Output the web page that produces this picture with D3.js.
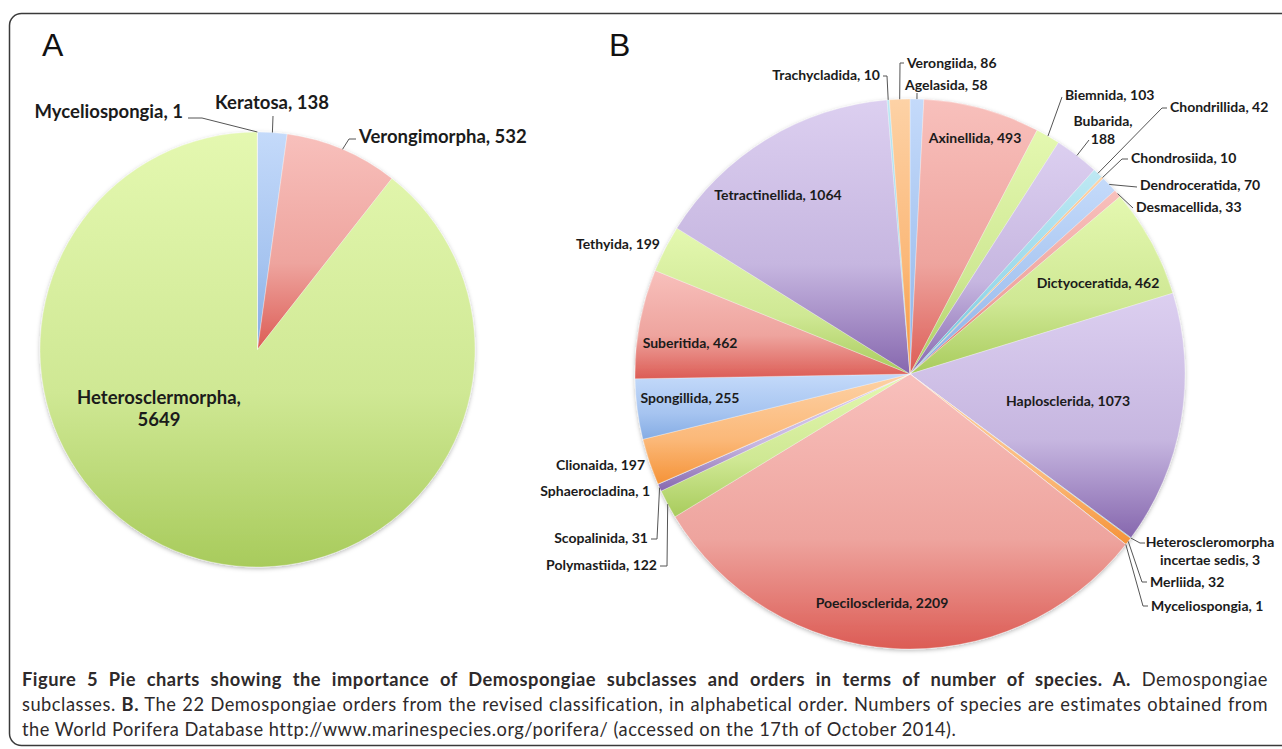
<!DOCTYPE html>
<html>
<head>
<meta charset="utf-8">
<script src="https://cdn.jsdelivr.net/npm/d3@7"></script>
<style>
  body { margin: 0; background: #fff; }
  svg { display: block; }
</style>
</head>
<body>
<svg id="chart"></svg>
<script>
// subclasses (panel A), clockwise from 12 o'clock
let subclassNames = ['Keratosa', 'Verongimorpha', 'Heterosclermorpha', 'Myceliospongia']
let subclassCounts = [138, 532, 5649, 1]

// orders (panel B), clockwise from 12 o'clock
let orderNames = ['Agelasida', 'Axinellida', 'Biemnida', 'Bubarida', 'Chondrillida', 'Chondrosiida',
  'Dendroceratida', 'Desmacellida', 'Dictyoceratida', 'Haplosclerida', 'Heteroscleromorpha incertae sedis',
  'Merliida', 'Myceliospongia', 'Poecilosclerida', 'Polymastiida', 'Scopalinida', 'Sphaerocladina',
  'Clionaida', 'Spongillida', 'Suberitida', 'Tethyida', 'Tetractinellida', 'Trachycladida', 'Verongiida']
let orderCounts = [58, 493, 103, 188, 42, 10, 70, 33, 462, 1073, 3, 32, 1, 2209, 122, 31, 1, 197, 255, 462, 199, 1064, 10, 86]

let width = 1282
let height = 749

// excel-ish palette: light top, mid, darker bottom
let palette = [
  ['#c4dafa', '#a6c4f0', '#84ace4'],
  ['#f8c0bc', '#eea49e', '#dc5c55'],
  ['#e4f8b0', '#cfe894', '#a8cb5c'],
  ['#dccff0', '#c6b6e0', '#8667ae'],
  ['#bee8f3', '#98d8ea', '#5fbcd7'],
  ['#fdd2a6', '#fbb878', '#f59338']
]

// label layout: [x, y(center of first line), anchor, lines, leader points]
let layoutA = [
  [272, 103, 'middle', ['Keratosa, 138'], [[273, 116]]],
  [359, 137, 'start', ['Verongimorpha, 532'], [[356, 139], [349, 139]]],
  [159, 398, 'middle', ['Heterosclermorpha,', '5649'], null],
  [183, 112, 'end', ['Myceliospongia, 1'], [[188, 118], [202, 118]]]
]

let layoutB = [
  [905, 85, 'start', ['Agelasida, 58'], [[917, 93]]],
  [975, 138, 'middle', ['Axinellida, 493'], null],
  [1065, 95, 'start', ['Biemnida, 103'], [[1062, 97]]],
  [1103, 121, 'middle', ['Bubarida,', '188'], [[1089, 140]]],
  [1170, 107, 'start', ['Chondrillida, 42'], [[1167, 108], [1162, 108]]],
  [1131, 158, 'start', ['Chondrosiida, 10'], [[1128, 159], [1122, 159]]],
  [1140, 185, 'start', ['Dendroceratida, 70'], [[1137, 187]]],
  [1136, 207, 'start', ['Desmacellida, 33'], [[1133, 208]]],
  [1098, 283, 'middle', ['Dictyoceratida, 462'], null],
  [1068, 401, 'middle', ['Haplosclerida, 1073'], null],
  [1210, 542, 'middle', ['Heteroscleromorpha', 'incertae sedis, 3'], [[1145, 543], [1140, 543]]],
  [1150, 582, 'start', ['Merliida, 32'], [[1147, 582], [1142, 582]]],
  [1151, 606, 'start', ['Myceliospongia, 1'], [[1148, 606], [1143, 606]]],
  [882, 603, 'middle', ['Poecilosclerida, 2209'], null],
  [657, 565, 'end', ['Polymastiida, 122'], [[660, 566], [667, 566]]],
  [648, 538, 'end', ['Scopalinida, 31'], [[651, 539], [657, 539]]],
  [650, 491, 'end', ['Sphaerocladina, 1'], null],
  [645, 465, 'end', ['Clionaida, 197'], null],
  [690, 398, 'middle', ['Spongillida, 255'], null],
  [690, 343, 'middle', ['Suberitida, 462'], null],
  [660, 244, 'end', ['Tethyida, 199'], null],
  [778, 195, 'middle', ['Tetractinellida, 1064'], null],
  [880, 75, 'end', ['Trachycladida, 10'], [[883, 76], [887, 76]]],
  [907, 63, 'start', ['Verongiida, 86'], [[904, 63], [900, 63]]]
]

let svg = d3.select('#chart')
  .attr('width', width)
  .attr('height', height)

let defs = svg.append('defs')

palette.forEach((c, i) => {
  let g = defs.append('linearGradient')
    .attr('id', 'grad' + i)
    .attr('x1', 0).attr('y1', 0)
    .attr('x2', 0).attr('y2', 1)
  g.append('stop').attr('offset', '0%').attr('stop-color', c[0])
  g.append('stop').attr('offset', '60%').attr('stop-color', c[1])
  g.append('stop').attr('offset', '100%').attr('stop-color', c[2])
})

defs.append('filter')
  .attr('id', 'shadow')
  .attr('x', '-10%').attr('y', '-10%')
  .attr('width', '120%').attr('height', '120%')
  .append('feDropShadow')
  .attr('dx', 0).attr('dy', 1.5)
  .attr('stdDeviation', 2)
  .attr('flood-color', '#000')
  .attr('flood-opacity', 0.28)

// frame
svg.append('rect')
  .attr('x', 9.5).attr('y', 13.5)
  .attr('width', 1300).attr('height', 732)
  .attr('rx', 12)
  .attr('fill', 'none')
  .attr('stroke', '#3a3a3a')
  .attr('stroke-width', 1.5)

// panel letters
svg.append('text').attr('x', 42).attr('y', 56).text('A')
  .attr('font-family', 'Liberation Sans, Arial, sans-serif').attr('font-size', 32).attr('fill', '#111')
svg.append('text').attr('x', 609).attr('y', 56).text('B')
  .attr('font-family', 'Liberation Sans, Arial, sans-serif').attr('font-size', 32).attr('fill', '#111')

let drawPie = (names, counts, cx, cy, r, layout, fontSize, lineGap) => {
  let data = names.map((n, i) => ({ name: n, value: counts[i], idx: i }))
  let pie = d3.pie().sort(null).value(d => d.value)
  let arcs = pie(data)
  let arc = d3.arc().innerRadius(0).outerRadius(r)

  let g = svg.append('g').attr('transform', 'translate(' + cx + ',' + cy + ')')

  g.append('g')
    .attr('filter', 'url(#shadow)')
    .selectAll('path')
    .data(arcs)
    .enter()
    .append('path')
    .attr('d', arc)
    .attr('fill', d => 'url(#grad' + (d.data.idx % palette.length) + ')')
    .attr('stroke', '#fff')
    .attr('stroke-width', 0.6)
    .attr('stroke-opacity', 0.5)

  // leader lines: label side -> slice edge
  arcs.forEach((d, i) => {
    let lay = layout[i]
    if (!lay[4]) return
    let mid = (d.startAngle + d.endAngle) / 2
    let edge = [cx + r * Math.sin(mid), cy - r * Math.cos(mid)]
    let pts = lay[4].concat([edge])
    svg.append('path')
      .attr('d', d3.line()(pts))
      .attr('fill', 'none')
      .attr('stroke', '#555')
      .attr('stroke-width', 1)
  })

  arcs.forEach((d, i) => {
    let lay = layout[i]
    let t = svg.append('text')
      .attr('text-anchor', lay[2])
      .attr('font-family', 'Lato, Calibri, sans-serif')
      .attr('font-weight', 700)
      .attr('font-size', fontSize)
      .attr('fill', '#1b1b1b')
    lay[3].forEach((line, k) => {
      t.append('tspan')
        .attr('x', lay[0])
        .attr('y', lay[1] + k * lineGap)
        .attr('dy', '0.35em')
        .text(line)
    })
  })
}

drawPie(subclassNames, subclassCounts, 257.5, 349.5, 217.5, layoutA, 18.5, 22)
drawPie(orderNames, orderCounts, 910, 374, 275, layoutB, 14, 18)

// caption
let captionLines = [
  [['Figure 5 Pie charts showing the importance of Demospongiae subclasses and orders in terms of number of species. A.', true], [' Demospongiae', false]],
  [['subclasses. ', false], ['B.', true], [' The 22 Demospongiae orders from the revised classification, in alphabetical order. Numbers of species are estimates obtained from', false]],
  [['the World Porifera Database http://www.marinespecies.org/porifera/ (accessed on the 17th of October 2014).', false]]
]
let capX = 22
let capRight = 1268
captionLines.forEach((parts, i) => {
  let t = svg.append('text')
    .attr('x', capX)
    .attr('y', 686 + i * 25)
    .attr('font-family', 'Lato, sans-serif')
    .attr('font-size', 18.3)
    .attr('letter-spacing', 0.5)
    .attr('fill', '#2e2a2b')
  parts.forEach(p => {
    t.append('tspan')
      .attr('font-weight', p[1] ? 700 : 400)
      .text(p[0])
  })
  if (i < 2) {
    let natural = t.node().getComputedTextLength()
    let spaces = parts.map(p => p[0]).join('').split(' ').length - 1
    t.attr('word-spacing', (capRight - capX - natural) / spaces)
  }
})
</script>
</body>
</html>
